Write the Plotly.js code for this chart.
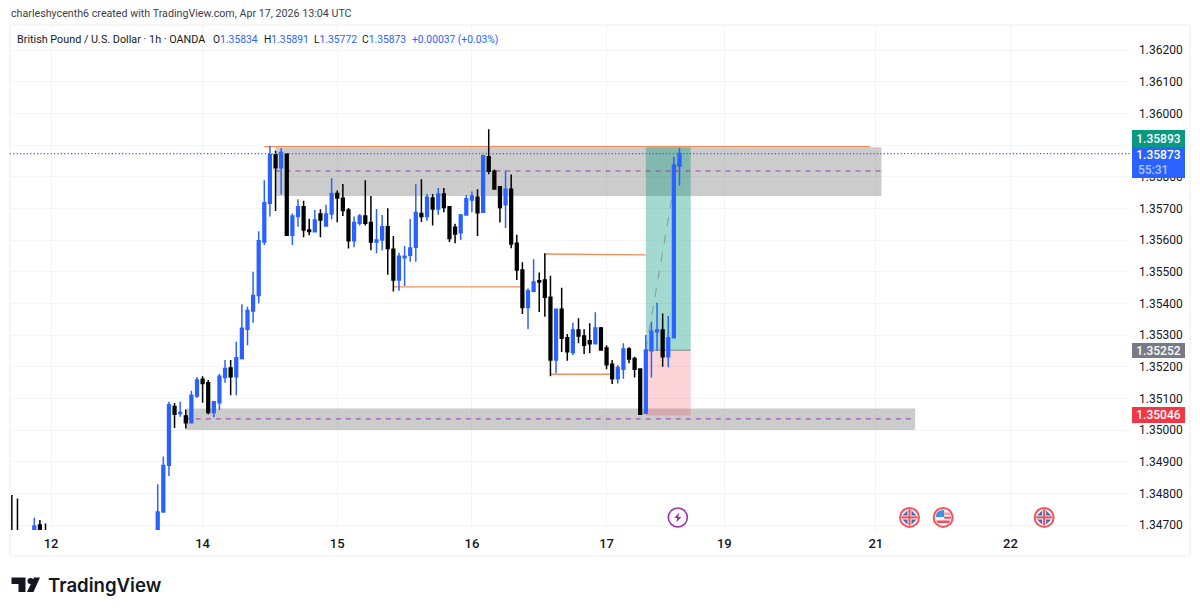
<!DOCTYPE html>
<html><head><meta charset="utf-8">
<script src="https://cdn.plot.ly/plotly-3.0.1.min.js"></script>
<style>html,body{margin:0;padding:0;background:#fff}#c{width:1200px;height:613px}</style></head>
<body><div id="c"></div>
<script>
const barIndex=[-26,-25,-22,-21,-20,0,1,2,3,4,5,6,7,8,9,10,11,12,13,14,15,16,17,18,19,20,21,22,23,24,25,26,27,28,29,30,31,32,33,34,35,36,37,38,39,40,41,42,43,44,45,46,47,48,49,50,51,52,53,54,55,56,57,58,59,60,61,62,63,64,65,66,67,68,69,70,71,72,73,74,75,76,77,78,79,80,81,82,83,84,85,86,87,88,89,90,91,92,93];
const opens=[1.34668,1.34668,1.34668,1.34700,1.34681,1.34668,1.34741,1.34889,1.35074,1.35052,1.35044,1.35023,1.35107,1.35160,1.35149,1.35055,1.35086,1.35166,1.35196,1.35168,1.35226,1.35318,1.35376,1.35425,1.35594,1.35716,1.35869,1.35828,1.35872,1.35615,1.35674,1.35705,1.35632,1.35626,1.35682,1.35644,1.35682,1.35747,1.35732,1.35695,1.35598,1.35653,1.35676,1.35655,1.35594,1.35600,1.35642,1.35571,1.35474,1.35544,1.35552,1.35577,1.35684,1.35674,1.35733,1.35698,1.35745,1.35705,1.35640,1.35623,1.35679,1.35726,1.35735,1.35688,1.35863,1.35817,1.35768,1.35711,1.35760,1.35590,1.35505,1.35387,1.35438,1.35471,1.35474,1.35419,1.35221,1.35381,1.35291,1.35245,1.35316,1.35297,1.35282,1.35272,1.35322,1.35259,1.35208,1.35162,1.35192,1.35256,1.35226,1.35193,1.35053,1.35250,1.35310,1.35316,1.35231,1.35291,1.35834];
const highs=[1.34795,1.34784,1.34723,1.34716,1.34705,1.34829,1.34916,1.35089,1.35085,1.35089,1.35065,1.35124,1.35167,1.35170,1.35158,1.35092,1.35177,1.35221,1.35221,1.35279,1.35397,1.35389,1.35500,1.35628,1.35789,1.35897,1.35882,1.35890,1.35874,1.35684,1.35729,1.35724,1.35667,1.35695,1.35697,1.35711,1.35795,1.35756,1.35777,1.35701,1.35674,1.35682,1.35789,1.35739,1.35698,1.35679,1.35700,1.35613,1.35560,1.35581,1.35666,1.35776,1.35792,1.35745,1.35745,1.35764,1.35764,1.35705,1.35651,1.35682,1.35742,1.35753,1.35760,1.35866,1.35950,1.35823,1.35768,1.35819,1.35807,1.35617,1.35530,1.35447,1.35539,1.35497,1.35558,1.35487,1.35381,1.35449,1.35303,1.35339,1.35353,1.35318,1.35337,1.35372,1.35325,1.35268,1.35221,1.35205,1.35274,1.35261,1.35231,1.35193,1.35300,1.35342,1.35402,1.35368,1.35360,1.35863,1.35891];
const lows=[1.34637,1.34637,1.34659,1.34659,1.34653,1.34662,1.34741,1.34855,1.35006,1.35042,1.35005,1.35023,1.35101,1.35086,1.35050,1.35040,1.35063,1.35149,1.35110,1.35110,1.35223,1.35268,1.35339,1.35400,1.35584,1.35674,1.35692,1.35744,1.35615,1.35584,1.35642,1.35609,1.35615,1.35626,1.35609,1.35644,1.35665,1.35656,1.35676,1.35573,1.35577,1.35646,1.35646,1.35568,1.35558,1.35568,1.35490,1.35437,1.35440,1.35455,1.35531,1.35531,1.35657,1.35661,1.35646,1.35680,1.35688,1.35594,1.35590,1.35600,1.35679,1.35688,1.35613,1.35688,1.35808,1.35761,1.35655,1.35638,1.35574,1.35474,1.35366,1.35319,1.35438,1.35373,1.35358,1.35170,1.35179,1.35246,1.35219,1.35237,1.35274,1.35240,1.35242,1.35272,1.35250,1.35192,1.35145,1.35147,1.35162,1.35211,1.35166,1.35050,1.35053,1.35166,1.35250,1.35200,1.35198,1.35291,1.35772];
const closes=[1.34653,1.34653,1.34697,1.34668,1.34665,1.34741,1.34888,1.35080,1.35050,1.35055,1.35023,1.35110,1.35158,1.35147,1.35055,1.35089,1.35170,1.35194,1.35168,1.35228,1.35321,1.35377,1.35425,1.35598,1.35718,1.35869,1.35828,1.35876,1.35615,1.35676,1.35705,1.35632,1.35627,1.35663,1.35663,1.35682,1.35747,1.35733,1.35693,1.35598,1.35655,1.35676,1.35653,1.35594,1.35600,1.35642,1.35573,1.35474,1.35549,1.35549,1.35575,1.35687,1.35674,1.35735,1.35698,1.35745,1.35703,1.35605,1.35619,1.35679,1.35730,1.35739,1.35686,1.35866,1.35817,1.35761,1.35703,1.35760,1.35587,1.35505,1.35387,1.35440,1.35467,1.35467,1.35419,1.35221,1.35381,1.35290,1.35247,1.35316,1.35297,1.35268,1.35272,1.35322,1.35253,1.35206,1.35162,1.35197,1.35256,1.35224,1.35192,1.35050,1.35253,1.35312,1.35316,1.35231,1.35291,1.35837,1.35873];
const priceTicks=[1.347,1.348,1.349,1.350,1.351,1.352,1.353,1.354,1.355,1.356,1.357,1.358,1.359,1.360,1.361,1.362];
const dayTicks=[-19,8,32,56,80,101,128,152];
const dayLabels=["12","14","15","16","17","19","21","22"];

const W=1200,H=613,L=9.5,R=70,T=25,B=83;
const px=x=>(x-L)/(W-L-R), py=y=>1-(y-T)/(H-T-B);
const blue="#2962ff", orange="#ef8f5e", purple="#8e3fa8", gridC="#f3f4f6", frameC="#eceef1";
const shapes=[];
const rect=(x0,x1,y0,y1,fill,layer)=>shapes.push({type:"rect",xref:"x",yref:"y",x0,x1,y0,y1,fillcolor:fill,line:{width:0},layer:layer||"between"});
const seg=(x0,y0,x1,y1,color,width,dash,layer)=>shapes.push({type:"line",xref:"x",yref:"y",x0,y0,x1,y1,line:{color,width,dash:dash||"solid"},layer:layer||"between"});
// supply / demand zones
rect(21,129,1.35739,1.35893,"rgba(120,120,120,0.38)");
rect(5,135,1.35000,1.35068,"rgba(120,120,120,0.38)");
// long position box
rect(87,95,1.35252,1.35893,"rgba(0,150,122,0.36)");
rect(87,95,1.35046,1.35252,"rgba(242,54,69,0.21)");
seg(87,1.35252,95,1.35252,"#7d8a85",1);
seg(87,1.35252,93,1.35873,"#8b9a95",1,"dash");
// levels
seg(19,1.35895,127,1.35895,orange,1.4);
seg(42,1.35452,65,1.35452,orange,1.4);
seg(69,1.35556,87,1.35553,orange,1.4);
seg(70,1.35176,80.6,1.35176,orange,1.4);
seg(21,1.35818,129,1.35818,purple,1,"5px,5px");
seg(5,1.35035,135,1.35035,purple,1,"5px,5px");
seg(-30,1.35873,175,1.35873,blue,1.2,"1.2px,2.2px","above");
// frame (page pixels)
const frame=(x0,y0,x1,y1)=>shapes.push({type:"line",xref:"paper",yref:"paper",x0:px(x0),x1:px(x1),y0:py(y0),y1:py(y1),line:{color:frameC,width:1},layer:"below"});
frame(9.5,25,1190,25);frame(9.5,556,1190,556);frame(9.5,25,9.5,556);frame(1190,25,1190,556);
// event badges
const badgeY=1.34724;
const badge=(k,stroke,fill,w)=>shapes.push({type:"circle",xref:"x",yref:"y",xsizemode:"pixel",ysizemode:"pixel",xanchor:k,yanchor:badgeY,x0:-9.5,x1:9.5,y0:-9.5,y1:9.5,fillcolor:fill,line:{color:stroke,width:w},layer:"above"});
const glyph=(k,path,fill,stroke,w)=>shapes.push({type:"path",xref:"x",yref:"y",xsizemode:"pixel",ysizemode:"pixel",xanchor:k,yanchor:badgeY,path,fillcolor:fill,line:{color:stroke||fill,width:w||0},layer:"above"});
const ukFlag=k=>{
  badge(k,"#f4565f","#f4f1f3",2);
  ["M-7,2 L-2,2 L-2,7 Z","M7,2 L2,2 L2,7 Z","M-7,-2 L-2,-2 L-2,-7 Z","M7,-2 L2,-2 L2,-7 Z"].forEach(p=>glyph(k,p,"#4a67b5"));
  glyph(k,"M-8,-1 L8,-1 L8,1 L-8,1 Z","#e8505b");
  glyph(k,"M-1,-8 L1,-8 L1,8 L-1,8 Z","#e8505b");
};
ukFlag(134);ukFlag(158);
badge(140,"#f4565f","#f6f3f4",2);
glyph(140,"M-7.5,0.5 L-7,3 L-5.5,5.3 L-3,7 L1,7.5 L1,0.5 Z","#3f8fe8");
glyph(140,"M1,5 L6,5 L7.5,2.5 L1,2.5 Z","#f0a0a6");
glyph(140,"M1,0.7 L8,0.7 L8,-1.3 L1,-1.3 Z","#e8505b");
glyph(140,"M-7,-3 L7,-3 L5.5,-5.5 L-5.5,-5.5 Z","#e8505b");
badge(92.7,"#9c27b0","#ffffff",1.5);
glyph(92.7,"M1.5,5 L-3.5,-0.5 L-0.5,-0.5 L-1.5,-5 L3.5,0.5 L0.5,0.5 Z","#9c27b0");
// TradingView mark
const mark=(path)=>shapes.push({type:"path",xref:"paper",yref:"paper",path,fillcolor:"#131722",line:{width:0},layer:"above"});
const P=(a)=>a.map((q,i)=>(i?"L":"M")+px(q[0])+","+py(q[1])).join(" ")+" Z";
mark(P([[11,577.5],[25,577.5],[25,592],[18,592],[18,584],[11,584]]));
mark(P([[33.5,577.5],[39.5,577.5],[33,592],[26.5,592]]));
shapes.push({type:"circle",xref:"paper",yref:"paper",x0:px(27),x1:px(33),y0:py(584),y1:py(578),fillcolor:"#131722",line:{width:0},layer:"above"});

const tag=(price,text,bg,h,fc,align)=>({xref:"paper",yref:"y",x:px(1132.5),y:price,xanchor:"left",yanchor:"middle",text,showarrow:false,width:53,height:h,bgcolor:bg,borderpad:0,borderwidth:0,align:align||"center",valign:"middle",font:{family:"Roboto",size:12,color:fc||"#fff",weight:500}});
const pageText=(x,y,text,font,anchor)=>({xref:"paper",yref:"paper",x:px(x),y:py(y),xanchor:anchor||"left",yanchor:"middle",text,showarrow:false,borderpad:0,font});
const v=s=>`<span style="color:${blue}">${s}</span>`;
const lf={family:"Roboto",size:10.3,color:"#131722"};
const annotations=[
 pageText(9,14,"charleshycenth6 created with TradingView.com, Apr 17, 2026 13:04 UTC",{family:"Roboto",size:10.7,color:"#3a3e4a"}),
 pageText(16,39,`British Pound / U.S. Dollar · 1h · OANDA`,{family:"Roboto",size:10.8,color:"#131722"}),
 pageText(212,39,`O${v("1.35834")}`,lf),
 pageText(262.5,39,`H${v("1.35891")}`,lf),
 pageText(313,39,`L${v("1.35772")}`,lf),
 pageText(361,39,`C${v("1.35873")}`,lf),
 pageText(411,39,v("+0.00037 (+0.03%)"),{family:"Roboto",size:10.3,color:blue}),
 pageText(46.5,585,"TradingView",{family:"Inter",size:18.6,color:"#131722",weight:600}),
 tag(1.35919,"1.35893","#089981",18),
 tag(1.35820,"&nbsp;&nbsp;55:31",blue,15.5,"#b5c7ff","left"),
 tag(1.35867,"1.35873",blue,15.5),
 tag(1.35252,"1.35252","#787b86",15),
 tag(1.35046,"1.35046","#f23645",16),
];
const trace={type:"candlestick",x:barIndex,open:opens,high:highs,low:lows,close:closes,
 increasing:{line:{color:blue,width:1.5},fillcolor:blue},
 decreasing:{line:{color:"#000000",width:1.5},fillcolor:"#000000"},
 whiskerwidth:0,hoverinfo:"skip",showlegend:false};
const layout={width:W,height:H,margin:{l:L,r:R,t:T,b:B,pad:0},paper_bgcolor:"#fff",plot_bgcolor:"#fff",showlegend:false,
 xaxis:{type:"linear",range:[-26.33,173.3],tickmode:"array",tickvals:dayTicks,ticktext:dayLabels,showgrid:true,gridcolor:gridC,gridwidth:1,zeroline:false,showline:false,ticks:"",rangeslider:{visible:false},
  tickfont:{family:"Roboto",size:13,color:"#131722",weight:500},ticklabelstandoff:4},
 yaxis:{side:"right",range:[1.346842,1.36279],tickmode:"array",tickvals:priceTicks,ticktext:priceTicks.map(t=>t.toFixed(5)),showgrid:true,gridcolor:gridC,gridwidth:1,zeroline:false,showline:false,ticks:"",
  tickfont:{family:"Roboto",size:12,color:"#131722"},ticklabelstandoff:8},
 shapes,annotations};
Plotly.newPlot("c",[trace],layout,{displayModeBar:false,staticPlot:true});
</script></body></html>
